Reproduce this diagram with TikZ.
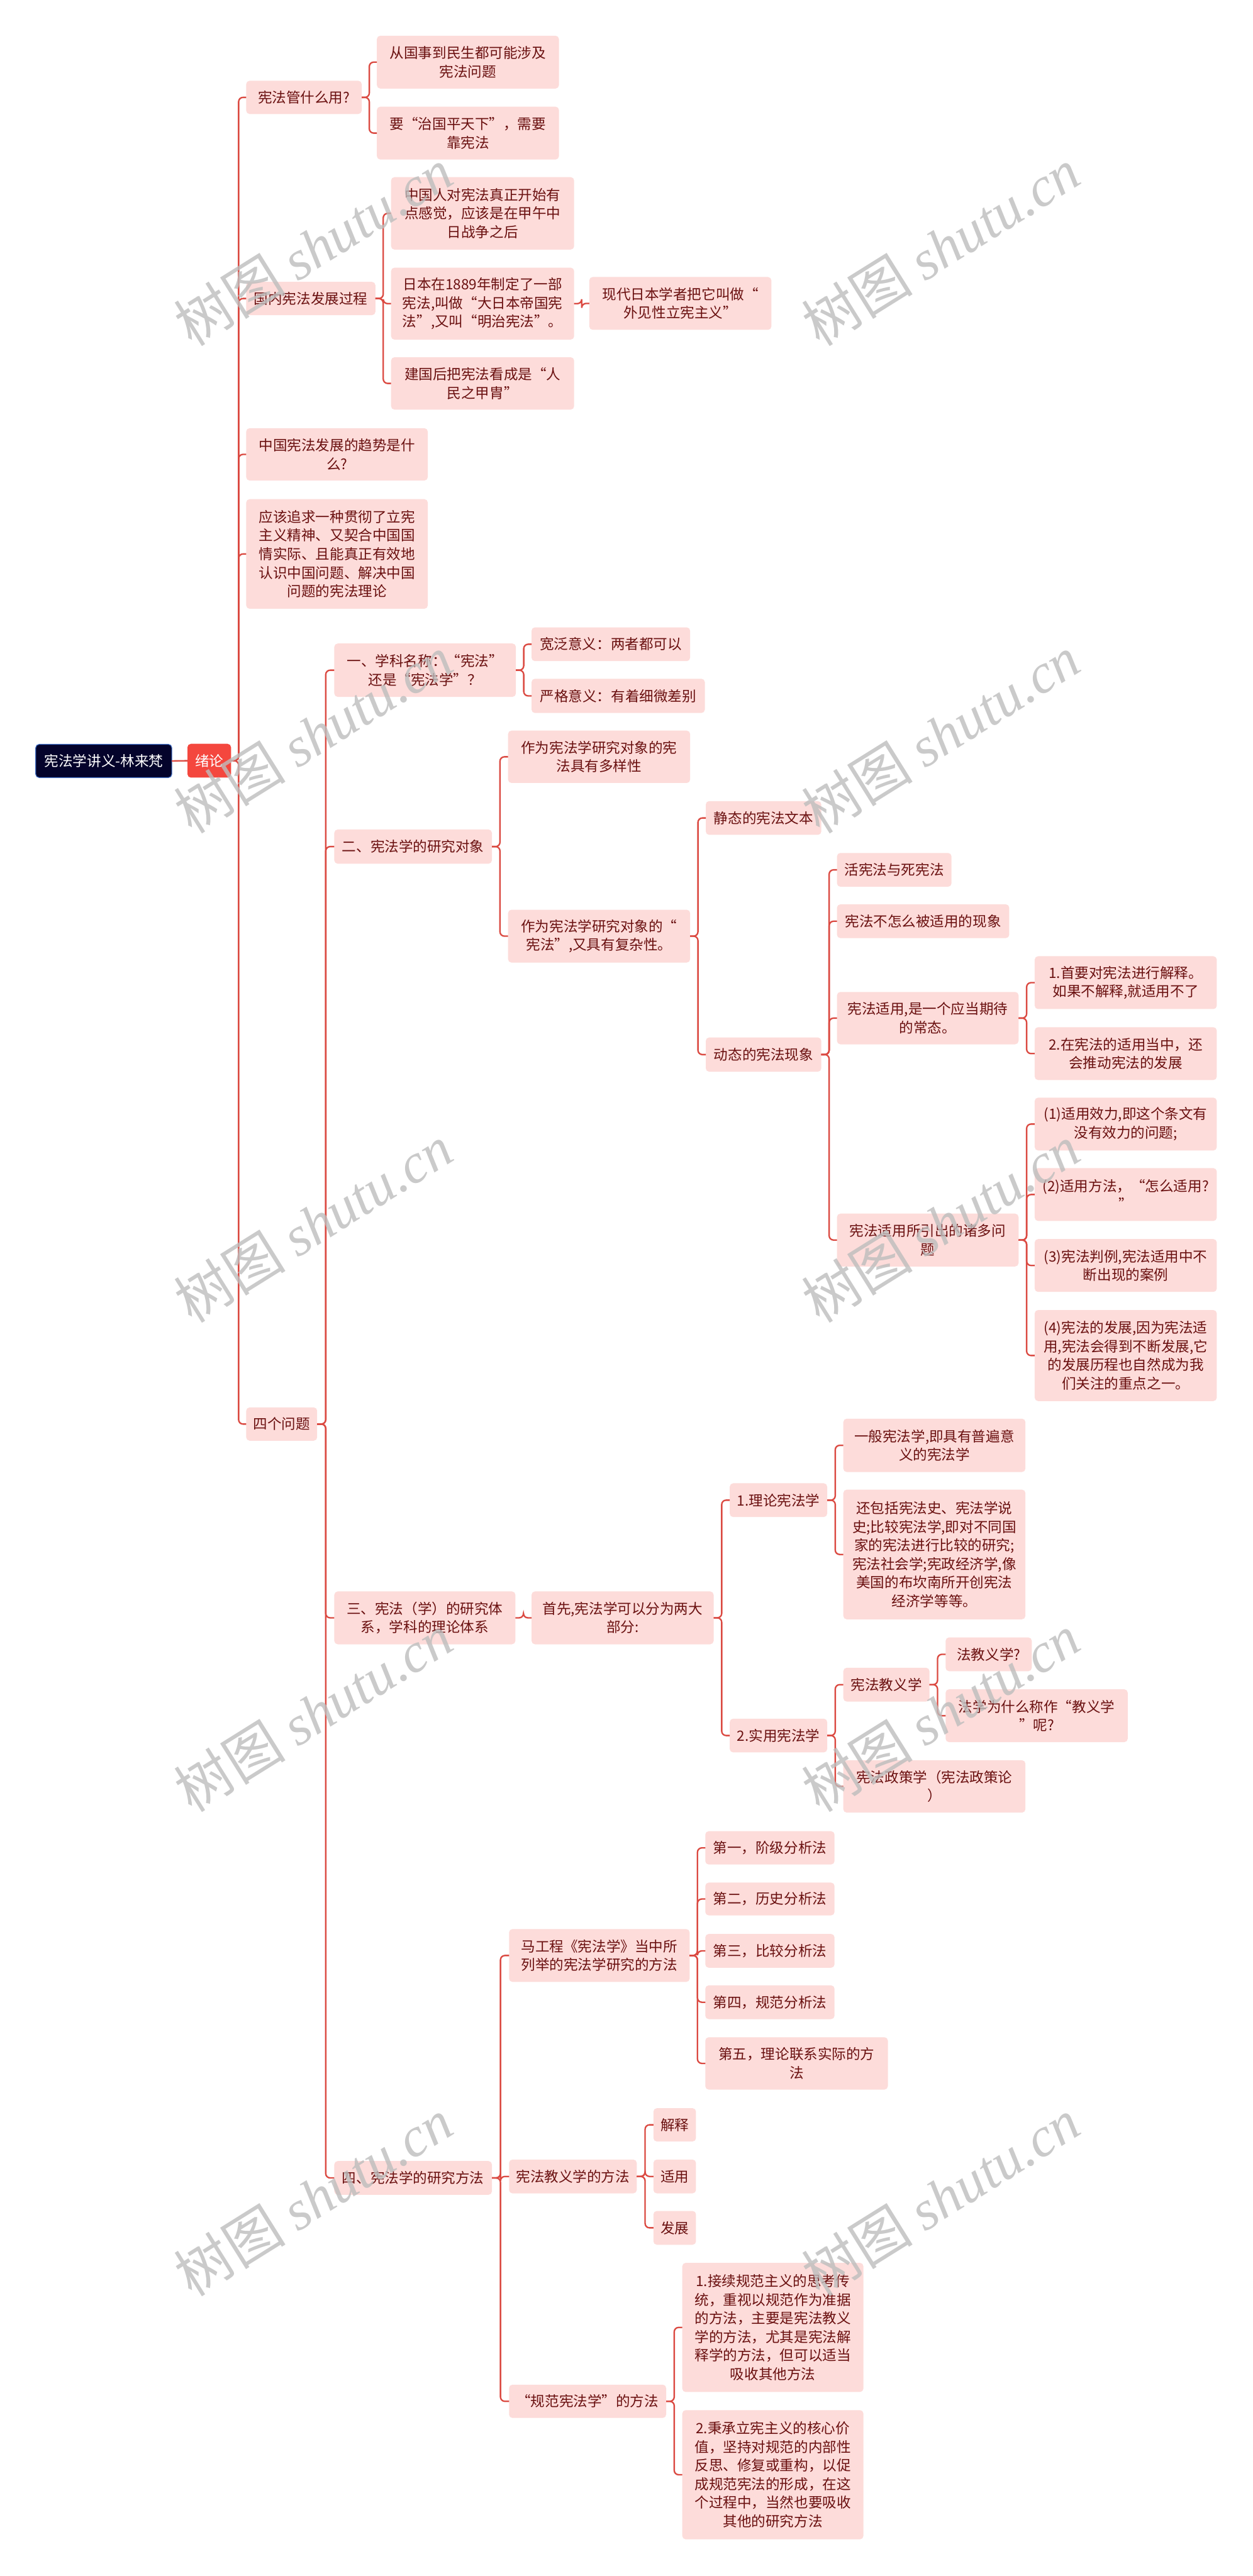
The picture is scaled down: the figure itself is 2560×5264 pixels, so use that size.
\documentclass[tikz,border=0pt]{standalone}
\usepackage{fontspec}
\setmainfont{Noto Sans CJK SC}
\newfontfamily\wmlat{Liberation Serif}
\usetikzlibrary{calc}
\definecolor{nodefill}{HTML}{FDDCDA}
\definecolor{nodetext}{HTML}{6A1010}
\definecolor{linec}{HTML}{DB4A42}
\definecolor{rootfill}{HTML}{04032B}
\definecolor{rootborder}{HTML}{3D6CC4}
\definecolor{secfill}{HTML}{F4473E}
\definecolor{wmc}{HTML}{BDBDBD}
\newcommand\nd[6]{\node[#1, minimum width={#4-#2}, minimum height={#5-#3}] (#6) at ({(#2+#4)/2},{(#3+#5)/2})}
\tikzset{
  box/.style={rectangle, rounded corners=7pt, fill=nodefill, text=nodetext, inner sep=0pt, outer sep=0pt, align=center, font=\fontsize{29}{38}\selectfont},
  rootbox/.style={box, fill=rootfill, draw=rootborder, line width=1.5pt, text=white},
  secbox/.style={box, fill=secfill, text=white},
  conn/.style={draw=linec, line width=3pt, rounded corners=9pt},
  elb/.style={to path={let \p1=(\tikztostart), \p2=(\tikztotarget) in -- ({(\x1+\x2)/2},\y1) |- (\tikztotarget)}},
  wmark/.style={rotate=32, text=wmc, opacity=0.8, font=\fontsize{114}{118}\selectfont, inner sep=0pt}
}
\begin{document}
\begin{tikzpicture}[x=1pt,y=-1pt]
\useasboundingbox (0,0) rectangle (2560,5264);
\fill[white] (0,0) rectangle (2560,5264);

% nodes
\nd{rootbox}{73}{1521}{351}{1589}{root} {宪法学讲义-林来梵};
\nd{secbox}{383}{1520}{472}{1589}{xl} {绪论};

\nd{box}{503}{165}{739}{233}{a1} {宪法管什么用?};
\nd{box}{503}{576}{767}{644}{a2} {国内宪法发展过程};
\nd{box}{503}{875}{874}{982}{a3} {中国宪法发展的趋势是什\\么?};
\nd{box}{503}{1020}{874}{1244}{a4} {应该追求一种贯彻了立宪\\主义精神、又契合中国国\\情实际、且能真正有效地\\认识中国问题、解决中国\\问题的宪法理论};
\nd{box}{503}{2876}{648}{2944}{a5} {四个问题};

\nd{box}{770}{73}{1142}{181}{b1} {从国事到民生都可能涉及\\宪法问题};
\nd{box}{770}{218}{1142}{326}{b2} {要“治国平天下”，需要\\靠宪法};
\nd{box}{799}{362}{1173}{510}{b3} {中国人对宪法真正开始有\\点感觉，应该是在甲午中\\日战争之后};
\nd{box}{799}{547}{1173}{694}{b4} {日本在1889年制定了一部\\宪法,叫做“大日本帝国宪\\法”,又叫“明治宪法”。};
\nd{box}{799}{730}{1173}{837}{b5} {建国后把宪法看成是“人\\民之甲胄”};
\nd{box}{1204}{566}{1576}{674}{b6} {现代日本学者把它叫做“\\外见性立宪主义”};

\nd{box}{683}{1315}{1054}{1424}{c1} {一、学科名称：“宪法”\\还是“宪法学”？};
\nd{box}{683}{1695}{1005}{1765}{c2} {二、宪法学的研究对象};
\nd{box}{683}{3252}{1053}{3360}{c3} {三、宪法（学）的研究体\\系，学科的理论体系};
\nd{box}{683}{4416}{1005}{4485}{c4} {四、宪法学的研究方法};

\nd{box}{1086}{1282}{1410}{1351}{d1} {宽泛意义：两者都可以};
\nd{box}{1086}{1387}{1440}{1457}{d2} {严格意义：有着细微差别};
\nd{box}{1038}{1493}{1410}{1600}{d3} {作为宪法学研究对象的宪\\法具有多样性};
\nd{box}{1038}{1859}{1410}{1967}{d4} {作为宪法学研究对象的“\\宪法”,又具有复杂性。};

\nd{box}{1442}{1637}{1678}{1706}{e1} {静态的宪法文本};
\nd{box}{1442}{2120}{1678}{2190}{e2} {动态的宪法现象};

\nd{box}{1710}{1743}{1944}{1812}{f1} {活宪法与死宪法};
\nd{box}{1710}{1848}{2062}{1917}{f2} {宪法不怎么被适用的现象};
\nd{box}{1710}{2027}{2081}{2134}{f3} {宪法适用,是一个应当期待\\的常态。};
\nd{box}{1710}{2480}{2081}{2588}{f4} {宪法适用所引出的诸多问\\题};

\nd{box}{2114}{1954}{2486}{2062}{g1} {1.首要对宪法进行解释。\\如果不解释,就适用不了};
\nd{box}{2114}{2099}{2486}{2207}{g2} {2.在宪法的适用当中，还\\会推动宪法的发展};
\nd{box}{2114}{2243}{2486}{2351}{g3} {(1)适用效力,即这个条文有\\没有效力的问题;};
\nd{box}{2114}{2387}{2486}{2495}{g4} {(2)适用方法，“怎么适用?\\”};
\nd{box}{2114}{2532}{2486}{2640}{g5} {(3)宪法判例,宪法适用中不\\断出现的案例};
\nd{box}{2114}{2677}{2486}{2863}{g6} {(4)宪法的发展,因为宪法适\\用,宪法会得到不断发展,它\\的发展历程也自然成为我\\们关注的重点之一。};

\nd{box}{1086}{3252}{1458}{3360}{h1} {首先,宪法学可以分为两大\\部分:};
\nd{box}{1491}{3031}{1690}{3100}{i1} {1.理论宪法学};
\nd{box}{1491}{3512}{1690}{3581}{i2} {2.实用宪法学};
\nd{box}{1723}{2899}{2095}{3008}{j1} {一般宪法学,即具有普遍意\\义的宪法学};
\nd{box}{1723}{3044}{2095}{3309}{j2} {还包括宪法史、宪法学说\\史;比较宪法学,即对不同国\\家的宪法进行比较的研究;\\宪法社会学;宪政经济学,像\\美国的布坎南所开创宪法\\经济学等等。};
\nd{box}{1723}{3408}{1899}{3477}{j3} {宪法教义学};
\nd{box}{1723}{3597}{2095}{3704}{j4} {宪法政策学（宪法政策论\\）};
\nd{box}{1932}{3346}{2108}{3415}{k1} {法教义学?};
\nd{box}{1932}{3452}{2304}{3560}{k2} {法学为什么称作“教义学\\”呢?};

\nd{box}{1040}{3942}{1409}{4050}{l1} {马工程《宪法学》当中所\\列举的宪法学研究的方法};
\nd{box}{1040}{4413}{1301}{4482}{l2} {宪法教义学的方法};
\nd{box}{1040}{4873}{1361}{4941}{l3} {“规范宪法学”的方法};

\nd{box}{1441}{3742}{1705}{3810}{m1} {第一，阶级分析法};
\nd{box}{1441}{3847}{1705}{3914}{m2} {第二，历史分析法};
\nd{box}{1441}{3952}{1705}{4021}{m3} {第三，比较分析法};
\nd{box}{1441}{4057}{1705}{4126}{m4} {第四，规范分析法};
\nd{box}{1441}{4163}{1814}{4270}{m5} {第五，理论联系实际的方\\法};

\nd{box}{1335}{4308}{1422}{4376}{n1} {解释};
\nd{box}{1335}{4413}{1422}{4482}{n2} {适用};
\nd{box}{1335}{4518}{1422}{4587}{n3} {发展};

\nd{box}{1394}{4624}{1764}{4888}{o1} {1.接续规范主义的思考传\\统，重视以规范作为准据\\的方法，主要是宪法教义\\学的方法，尤其是宪法解\\释学的方法，但可以适当\\吸收其他方法};
\nd{box}{1394}{4925}{1764}{5189}{o2} {2.秉承立宪主义的核心价\\值，坚持对规范的内部性\\反思、修复或重构，以促\\成规范宪法的形成，在这\\个过程中，当然也要吸收\\其他的研究方法};

% connectors
\draw[conn] (root.east) -- (xl.west);
\foreach \c in {a1,a2,a3,a4,a5} \draw[conn] (xl.east) to[elb] (\c.west);
\foreach \c in {b1,b2} \draw[conn] (a1.east) to[elb] (\c.west);
\foreach \c in {b3,b4,b5} \draw[conn] (a2.east) to[elb] (\c.west);
\draw[conn] (b4.east) to[elb] (b6.west);
\foreach \c in {c1,c2,c3,c4} \draw[conn] (a5.east) to[elb] (\c.west);
\foreach \c in {d1,d2} \draw[conn] (c1.east) to[elb] (\c.west);
\foreach \c in {d3,d4} \draw[conn] (c2.east) to[elb] (\c.west);
\foreach \c in {e1,e2} \draw[conn] (d4.east) to[elb] (\c.west);
\foreach \c in {f1,f2,f3,f4} \draw[conn] (e2.east) to[elb] (\c.west);
\foreach \c in {g1,g2} \draw[conn] (f3.east) to[elb] (\c.west);
\foreach \c in {g3,g4,g5,g6} \draw[conn] (f4.east) to[elb] (\c.west);
\draw[conn] (c3.east) to[elb] (h1.west);
\foreach \c in {i1,i2} \draw[conn] (h1.east) to[elb] (\c.west);
\foreach \c in {j1,j2} \draw[conn] (i1.east) to[elb] (\c.west);
\foreach \c in {j3,j4} \draw[conn] (i2.east) to[elb] (\c.west);
\foreach \c in {k1,k2} \draw[conn] (j3.east) to[elb] (\c.west);
\foreach \c in {l1,l2,l3} \draw[conn] (c4.east) to[elb] (\c.west);
\foreach \c in {m1,m2,m3,m4,m5} \draw[conn] (l1.east) to[elb] (\c.west);
\foreach \c in {n1,n2,n3} \draw[conn] (l2.east) to[elb] (\c.west);
\foreach \c in {o1,o2} \draw[conn] (l3.east) to[elb] (\c.west);

% watermarks
\foreach \wy [count=\i] in {505,1500,2500,3500,4490} {
  \node[wmark] (wl\i) at (640,\wy) {树图 {\wmlat\itshape shutu.cn}};
  \node[wmark] (wr\i) at (1922,\wy) {树图 {\wmlat\itshape shutu.cn}};
}
\end{tikzpicture}
\end{document}
